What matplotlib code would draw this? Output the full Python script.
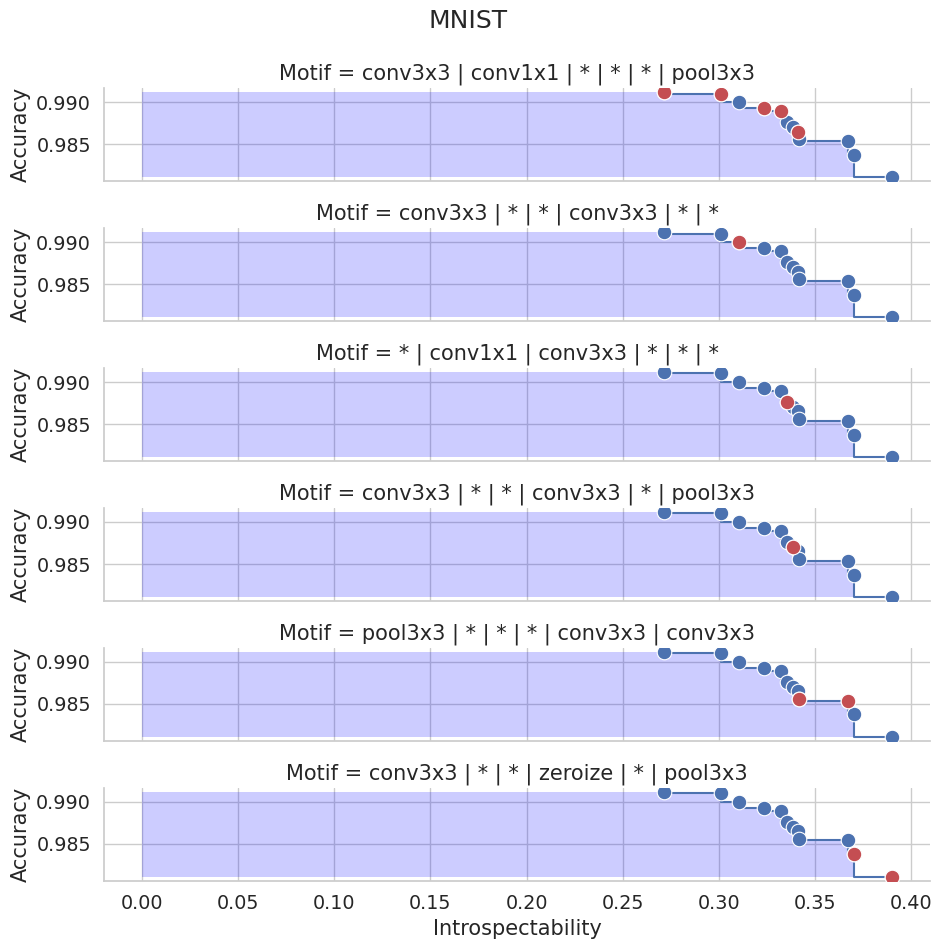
import numpy as np
import matplotlib
matplotlib.use("Agg")
import matplotlib.pyplot as plt
import seaborn as sns
from matplotlib.ticker import MultipleLocator, FormatStrFormatter

# pareto front (shared by all panels)
introspectability = [0.2715, 0.3010, 0.3106, 0.3236, 0.3323, 0.3352, 0.3382,
                     0.3410, 0.3418, 0.3670, 0.3700, 0.3901]
accuracy = [0.99115, 0.99101, 0.99000, 0.98930, 0.98890, 0.98762, 0.98700,
            0.98650, 0.98561, 0.98540, 0.98375, 0.98112]

motifs = [
    "conv3x3 | conv1x1 | * | * | * | pool3x3",
    "conv3x3 | * | * | conv3x3 | * | *",
    "* | conv1x1 | conv3x3 | * | * | *",
    "conv3x3 | * | * | conv3x3 | * | pool3x3",
    "pool3x3 | * | * | * | conv3x3 | conv3x3",
    "conv3x3 | * | * | zeroize | * | pool3x3",
]
# indices of front points matching each motif
highlight = [
    [0, 1, 3, 4, 7],
    [2],
    [5],
    [6],
    [8, 9],
    [10, 11],
]

sns.set_theme(style="whitegrid", font_scale=1.25)
blue = "#4C72B0"
red = "#C44E52"

fig, axes = plt.subplots(6, 1, sharex=True, figsize=(9.37, 9.39), dpi=100)
fig.subplots_adjust(left=0.111, right=0.9925, top=0.906, bottom=0.062, hspace=0.505)

xs = np.array(introspectability)
ys = np.array(accuracy)

for ax, motif, hl in zip(axes, motifs, highlight):
    # shaded dominated region
    fx = np.concatenate([[0.0], xs])
    fy = np.concatenate([[ys[0]], ys])
    ax.fill_between(fx, fy, ys.min(), step="pre", color="blue", alpha=0.2, linewidth=0)
    ax.step(xs, ys, where="pre", color=blue, linewidth=1.5)
    ax.scatter(xs, ys, s=110, color=blue, edgecolor="white", linewidth=0.8, zorder=3)
    ax.scatter(xs[hl], ys[hl], s=110, color=red, edgecolor="white", linewidth=0.8, zorder=4)
    ax.set_title("Motif = " + motif)
    ax.set_ylabel("Accuracy")
    ax.yaxis.set_major_locator(MultipleLocator(0.005))
    ax.yaxis.set_major_formatter(FormatStrFormatter("%.3f"))
    sns.despine(ax=ax)

axes[-1].xaxis.set_major_locator(MultipleLocator(0.05))
axes[-1].set_xlabel("Introspectability")
fig.suptitle("MNIST", y=0.99)

fig.savefig("out.png", dpi=100)
